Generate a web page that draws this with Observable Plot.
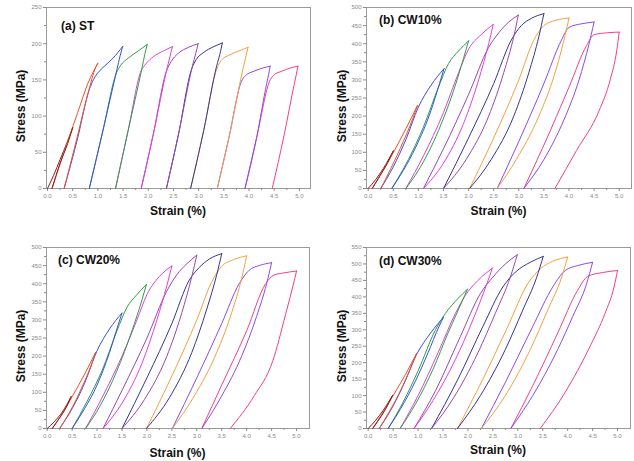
<!DOCTYPE html>
<html>
<head>
<meta charset="utf-8">
<script src="https://cdn.jsdelivr.net/npm/d3@7"></script>
<script src="https://cdn.jsdelivr.net/npm/@observablehq/plot@0.6"></script>
<style>
  html, body { margin: 0; padding: 0; background: #fff; }
  #chart { position: relative; width: 634px; height: 461px; overflow: hidden; background: #fff; }
  #chart svg { position: absolute; }
</style>
</head>
<body>
<div id="chart"></div>
<script>
// cycle colours (peak strain 0.5, 1.0, ... 5.0 %)
const cycleColors = ["#8b1c1c","#f0502a","#3a4fe0","#2e9e46","#e040e0","#9848b0","#353590","#f5a040","#8a4af0","#f04088"];
const xTickValues = [0,0.5,1,1.5,2,2.5,3,3.5,4,4.5,5];

// ---------- (a) ST : [strain %, stress MPa] ----------
const stLoad = [
  [[0,0],[0.12,18],[0.25,40],[0.38,62],[0.5,84]],
  [[0.09,0],[0.35,55],[0.6,105],[0.8,145],[1.0,173]],
  [[0.33,0],[0.6,70],[0.82,135],[0.95,155],[1.1,167],[1.3,180],[1.49,196]],
  [[0.83,0],[1.1,80],[1.37,160],[1.45,170],[1.6,180],[1.8,190],[1.98,199]],
  [[1.35,0],[1.6,80],[1.86,163],[1.95,172],[2.1,182],[2.3,190],[2.48,196]],
  [[1.86,0],[2.1,75],[2.36,162],[2.45,175],[2.6,187],[2.8,195],[2.99,200]],
  [[2.36,0],[2.6,75],[2.86,165],[2.95,178],[3.1,188],[3.3,196],[3.47,201]],
  [[2.84,0],[3.1,80],[3.36,165],[3.45,177],[3.6,184],[3.8,190],[3.98,195]],
  [[3.37,0],[3.6,70],[3.85,148],[3.93,156],[4.1,162],[4.3,167],[4.42,169]],
  [[3.92,0],[4.15,70],[4.42,150],[4.5,157],[4.65,162],[4.8,166],[4.97,169]]
];
const stUnload = [
  [[0.09,0],[0.25,35],[0.4,62],[0.5,84]],
  [[0.33,0],[0.55,60],[0.8,130],[0.96,168],[1.0,173]],
  [[0.83,0],[1.1,80],[1.38,165],[1.44,183],[1.49,196]],
  [[1.35,0],[1.6,80],[1.88,168],[1.93,185],[1.98,199]],
  [[1.86,0],[2.1,75],[2.38,168],[2.43,182],[2.48,196]],
  [[2.36,0],[2.6,75],[2.88,170],[2.94,186],[2.99,200]],
  [[2.84,0],[3.1,80],[3.36,170],[3.42,185],[3.47,201]],
  [[3.37,0],[3.6,70],[3.88,165],[3.93,180],[3.98,195]],
  [[3.92,0],[4.15,70],[4.35,145],[4.39,158],[4.42,169]],
  [[4.46,0],[4.7,75],[4.9,145],[4.94,158],[4.97,169]]
];

// ---------- (b) CW10% ----------
const cw10Load = [
  [[0,0],[0.15,25],[0.3,55],[0.5,104]],
  [[0.08,0],[0.3,50],[0.52,104],[0.75,165],[0.98,229]],
  [[0.25,0],[0.5,60],[0.75,135],[1.0,225],[1.25,285],[1.51,331]],
  [[0.47,0],[0.8,80],[1.1,170],[1.4,280],[1.6,345],[1.8,380],[2.0,408]],
  [[0.75,0],[1.1,90],[1.5,210],[1.8,320],[2.0,385],[2.25,425],[2.49,453]],
  [[1.1,0],[1.5,110],[2.0,260],[2.4,390],[2.6,430],[2.8,460],[2.99,479]],
  [[1.5,0],[2.0,140],[2.5,290],[2.85,410],[3.05,450],[3.25,470],[3.5,483]],
  [[2.02,0],[2.5,140],[3.0,300],[3.3,410],[3.5,450],[3.75,465],[4.0,471]],
  [[2.57,0],[3.0,130],[3.5,290],[3.85,410],[4.0,445],[4.25,455],[4.5,460]],
  [[3.1,0],[3.5,120],[4.0,280],[4.35,395],[4.5,425],[4.75,430],[5.0,432]]
];
const cw10Unload = [
  [[0.08,0],[0.2,28],[0.35,62],[0.5,104]],
  [[0.25,0],[0.45,55],[0.7,130],[0.88,190],[0.98,229]],
  [[0.47,0],[0.7,50],[0.95,115],[1.25,215],[1.42,290],[1.51,331]],
  [[0.75,0],[1.0,50],[1.4,160],[1.7,270],[1.9,360],[2.0,408]],
  [[1.1,0],[1.5,70],[1.9,180],[2.2,300],[2.4,400],[2.49,453]],
  [[1.5,0],[1.95,80],[2.4,200],[2.7,320],[2.9,420],[2.99,479]],
  [[2.02,0],[2.45,80],[2.9,200],[3.2,320],[3.4,420],[3.5,483]],
  [[2.57,0],[2.95,80],[3.4,200],[3.7,310],[3.9,410],[4.0,471]],
  [[3.1,0],[3.5,80],[3.9,190],[4.2,300],[4.4,400],[4.5,460]],
  [[3.72,0],[4.15,105],[4.6,215],[4.82,300],[4.95,380],[5.0,432]]
];

// ---------- (c) CW20% ----------
const cw20Load = [
  [[0,0],[0.15,20],[0.3,45],[0.48,88]],
  [[0.1,0],[0.3,40],[0.5,88],[0.75,150],[0.97,210]],
  [[0.25,0],[0.5,55],[0.75,125],[1.0,215],[1.25,275],[1.5,319]],
  [[0.5,0],[0.8,75],[1.1,160],[1.4,270],[1.6,335],[1.8,370],[1.99,398]],
  [[0.77,0],[1.1,85],[1.5,200],[1.8,300],[2.0,370],[2.25,420],[2.5,449]],
  [[1.12,0],[1.5,105],[2.0,250],[2.4,380],[2.6,425],[2.8,455],[3.0,479]],
  [[1.5,0],[2.0,140],[2.5,290],[2.85,410],[3.05,445],[3.25,468],[3.5,483]],
  [[1.99,0],[2.5,145],[3.0,300],[3.3,405],[3.5,448],[3.75,467],[4.0,477]],
  [[2.51,0],[3.0,140],[3.5,290],[3.85,400],[4.05,437],[4.25,450],[4.5,458]],
  [[3.1,0],[3.5,120],[4.0,270],[4.38,400],[4.55,424],[4.75,430],[5.0,435]]
];
const cw20Unload = [
  [[0.1,0],[0.25,30],[0.38,58],[0.48,88]],
  [[0.25,0],[0.45,45],[0.7,115],[0.87,170],[0.97,210]],
  [[0.5,0],[0.75,55],[1.0,120],[1.25,210],[1.42,285],[1.5,319]],
  [[0.77,0],[1.05,60],[1.4,160],[1.7,270],[1.9,355],[1.99,398]],
  [[1.12,0],[1.5,70],[1.9,180],[2.2,300],[2.4,395],[2.5,449]],
  [[1.5,0],[1.95,80],[2.4,200],[2.7,320],[2.9,420],[3.0,479]],
  [[1.99,0],[2.45,85],[2.9,210],[3.2,330],[3.4,425],[3.5,483]],
  [[2.51,0],[2.95,90],[3.4,210],[3.7,320],[3.9,415],[4.0,477]],
  [[3.1,0],[3.5,90],[3.9,200],[4.2,310],[4.4,400],[4.5,458]],
  [[3.67,0],[4.15,90],[4.52,185],[4.78,315],[4.93,395],[5.0,435]]
];

// ---------- (d) CW30% ----------
const cw30Load = [
  [[0,0],[0.15,25],[0.3,55],[0.49,101]],
  [[0.09,0],[0.3,50],[0.5,100],[0.75,165],[0.97,228]],
  [[0.22,0],[0.45,55],[0.7,130],[0.97,225],[1.25,290],[1.51,338]],
  [[0.4,0],[0.7,80],[1.0,175],[1.35,300],[1.55,350],[1.8,395],[1.99,423]],
  [[0.64,0],[1.0,100],[1.4,230],[1.75,350],[1.95,405],[2.2,450],[2.49,487]],
  [[0.92,0],[1.35,115],[1.85,280],[2.25,410],[2.5,460],[2.75,500],[2.99,528]],
  [[1.27,0],[1.8,150],[2.3,310],[2.7,430],[2.95,475],[3.25,505],[3.51,523]],
  [[1.79,0],[2.3,150],[2.8,310],[3.2,440],[3.45,485],[3.7,508],[4.0,521]],
  [[2.27,0],[2.75,140],[3.3,310],[3.7,430],[3.95,480],[4.2,495],[4.5,505]],
  [[2.86,0],[3.3,130],[3.8,290],[4.2,420],[4.4,462],[4.7,474],[5.0,480]]
];
const cw30Unload = [
  [[0.09,0],[0.22,28],[0.36,62],[0.49,101]],
  [[0.22,0],[0.42,50],[0.68,125],[0.87,190],[0.97,228]],
  [[0.4,0],[0.65,60],[0.95,145],[1.2,230],[1.42,310],[1.51,338]],
  [[0.64,0],[0.95,75],[1.3,180],[1.6,290],[1.88,385],[1.99,423]],
  [[0.92,0],[1.3,85],[1.75,210],[2.1,330],[2.38,440],[2.49,487]],
  [[1.27,0],[1.7,90],[2.2,230],[2.55,350],[2.85,460],[2.99,528]],
  [[1.79,0],[2.25,100],[2.75,240],[3.1,360],[3.38,460],[3.51,523]],
  [[2.27,0],[2.75,100],[3.25,240],[3.6,360],[3.88,460],[4.0,521]],
  [[2.86,0],[3.3,100],[3.8,240],[4.1,340],[4.38,440],[4.5,505]],
  [[3.45,0],[3.95,110],[4.45,250],[4.75,350],[4.93,430],[5.0,480]]
];

const panels = [
  {label:"(a) ST", load: stLoad, unload: stUnload, ymax:250, ystep:50, left:0, top:0,
   ml:46, mr:7, xdom:[-0.02,5.22], lab:[61,30], ytitleX:25, xtitleY:214.5},
  {label:"(b) CW10%", load: cw10Load, unload: cw10Unload, ymax:500, ystep:50, left:317, top:0,
   ml:49, mr:3, xdom:[-0.034,5.245], lab:[62,24], ytitleX:29, xtitleY:214.5},
  {label:"(c) CW20%", load: cw20Load, unload: cw20Unload, ymax:500, ystep:50, left:0, top:240,
   ml:46, mr:8, xdom:[-0.014,5.26], lab:[58,23.5], ytitleX:25, xtitleY:216.5},
  {label:"(d) CW30%", load: cw30Load, unload: cw30Unload, ymax:550, ystep:50, left:317, top:240,
   ml:49, mr:4, xdom:[-0.034,5.26], lab:[62,25], ytitleX:29, xtitleY:214}
];

function toRows(load, unload) {
  const out = [];
  load.forEach((pts, i) => pts.forEach(([x, y]) => out.push({x, y, cycle: i, key: "L" + i})));
  unload.forEach((pts, i) => pts.forEach(([x, y]) => out.push({x, y, cycle: i, key: "U" + i})));
  return out;
}

const W = 317, H = 225, MT = 7, MB = 37;
const font = "'Liberation Sans', Arial, sans-serif";
const chart = document.getElementById("chart");

for (const p of panels) {
  const rows = toRows(p.load, p.unload);
  const yMajor = d3.range(0, p.ymax + 1, p.ystep);
  const yMinor = d3.range(p.ystep / 2, p.ymax, p.ystep);
  const xMinor = d3.range(0.25, 5.2, 0.5);
  const svg = Plot.plot({
    width: W, height: H,
    marginLeft: p.ml, marginRight: p.mr, marginTop: MT, marginBottom: MB,
    style: {fontFamily: font, background: "transparent", overflow: "visible"},
    x: {domain: p.xdom},
    y: {domain: [0, p.ymax]},
    color: {type: "identity"},
    marks: [
      Plot.frame({stroke: "#9a9a9a", strokeWidth: 1}),
      Plot.axisX(xTickValues, {tickSize: 3, tickPadding: 2, fontSize: 6, color: "#8a8a8a",
        tickFormat: d3.format(".1f"), label: null}),
      Plot.axisX(xMinor, {tickSize: 2, tickFormat: () => "", color: "#8a8a8a", label: null}),
      Plot.axisY(yMajor, {tickSize: 3, tickPadding: 2, fontSize: 6, color: "#8a8a8a",
        tickFormat: d3.format("d"), label: null}),
      Plot.axisY(yMinor, {tickSize: 2, tickFormat: () => "", color: "#8a8a8a", label: null}),
      Plot.line(rows, {x: "x", y: "y", z: "key", stroke: d => cycleColors[d.cycle],
        strokeWidth: 1, curve: "monotone-x"})
    ]
  });
  svg.style.left = p.left + "px";
  svg.style.top = p.top + "px";
  const s = d3.select(svg);
  s.append("text").attr("x", p.lab[0]).attr("y", p.lab[1]).attr("text-anchor", "start")
    .attr("font-family", font).attr("font-weight", "bold").attr("font-size", 12)
    .attr("fill", "#111").text(p.label);
  const cx = (p.ml + (W - p.mr)) / 2;
  s.append("text").attr("x", cx).attr("y", p.xtitleY).attr("text-anchor", "middle")
    .attr("font-family", font).attr("font-weight", "bold").attr("font-size", 12)
    .attr("fill", "#111").text("Strain (%)");
  s.append("text").attr("transform", `translate(${p.ytitleX},106) rotate(-90)`)
    .attr("text-anchor", "middle")
    .attr("font-family", font).attr("font-weight", "bold").attr("font-size", 12)
    .attr("fill", "#111").text("Stress (MPa)");
  chart.appendChild(svg);
}
</script>
</body>
</html>
